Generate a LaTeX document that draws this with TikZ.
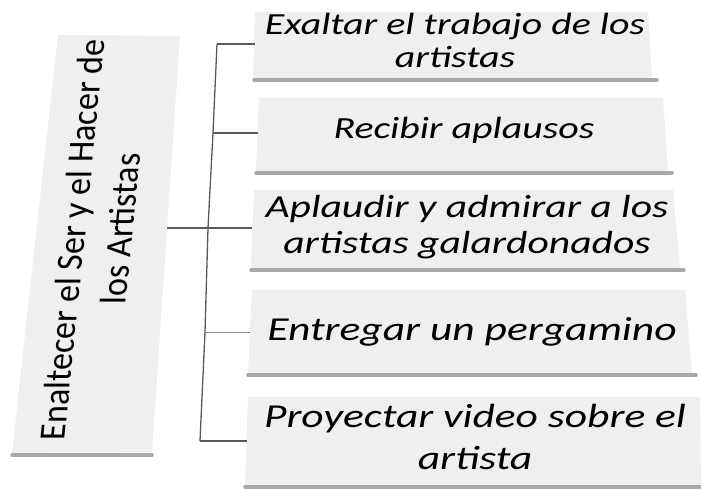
\documentclass[tikz,border=0pt]{standalone}
\usepackage{fontspec}
\setmainfont{Carlito}
\usepackage{graphicx}
\definecolor{boxfill}{HTML}{EFEFEF}
\definecolor{shadowc}{HTML}{A8A8A8}
\definecolor{linec}{HTML}{5A5A5A}
\tikzset{
  boxshape/.style={fill=boxfill, draw=none},
  shadowline/.style={draw=shadowc, line width=3.5pt, line cap=round},
  conn/.style={draw=linec, line width=1.3pt},
  txt/.style={inner sep=0pt, text=black},
}
\begin{document}
\begin{tikzpicture}[x=1pt,y=-1pt]
\useasboundingbox (0,0) rectangle (701,489);
% main (left) box
\fill[boxshape] (58,35) -- (180,36) -- (152,452) -- (12,453) -- cycle;
\draw[shadowline] (12,455) -- (152,455);
\begin{scope}[shift={(99,240)}, xslant=0.1]
\node[txt, transform shape] (main) at (0,0) {\rotatebox{90}{\scalebox{0.92}[1]{\fontsize{37}{47}\selectfont\begin{tabular}{@{}c@{}}Enaltecer el Ser y el Hacer de\\\hspace*{24pt}los Artistas\end{tabular}}}};
\end{scope}
% right boxes
\fill[boxshape] (255,12) -- (648,12) -- (652,78) -- (253,78) -- cycle;
\draw[shadowline] (254,80) -- (657,80);
\fill[boxshape] (259,98) -- (663,98) -- (668,171) -- (256,171) -- cycle;
\draw[shadowline] (256,173) -- (672,173);
\fill[boxshape] (254,190) -- (673,190) -- (680,268) -- (251,268) -- cycle;
\draw[shadowline] (251,270) -- (684,270);
\fill[boxshape] (252,290) -- (685,290) -- (692,373) -- (248,373) -- cycle;
\draw[shadowline] (248,375) -- (696,375);
\fill[boxshape] (248,397) -- (700,397) -- (701,485) -- (245,485) -- cycle;
\draw[shadowline] (245,487) -- (701,487);
% texts
\node[txt] (t1) at (455,44) {\scalebox{1.3}[1]{\fontsize{30.7}{33}\selectfont\itshape\begin{tabular}{@{}c@{}}Exaltar el trabajo de los\\artistas\end{tabular}}};
\node[txt] (t2) at (464,131.5) {\scalebox{1.3}[1]{\fontsize{30.7}{33}\selectfont\itshape\begin{tabular}{@{}c@{}}Recibir aplausos\end{tabular}}};
\node[txt] (t3) at (467,228) {\scalebox{1.3}[1]{\fontsize{32}{36}\selectfont\itshape\begin{tabular}{@{}c@{}}Aplaudir y admirar a los\\artistas galardonados\end{tabular}}};
\node[txt] (t4) at (472,332) {\scalebox{1.3}[1]{\fontsize{33.5}{40}\selectfont\itshape\begin{tabular}{@{}c@{}}Entregar un pergamino\end{tabular}}};
\node[txt] (t5) at (475,440.5) {\scalebox{1.3}[1]{\fontsize{33.5}{42}\selectfont\itshape\begin{tabular}{@{}c@{}}Proyectar video sobre el\\artista\end{tabular}}};
% connector points
\coordinate (mainE) at (167,228);
\coordinate (j1) at (217,44);
\coordinate (j2) at (213,133);
\coordinate (j3) at (208,228);
\coordinate (j4) at (205,332);
\coordinate (j5) at (200,441);
\coordinate (b1w) at (255,44);
\coordinate (b2w) at (258,133);
\coordinate (b3w) at (252,228);
\coordinate (b4w) at (250,332);
\coordinate (b5w) at (247,441);
% connectors
\draw[conn] (mainE) -- (j3);
\draw[conn] (j1) -- (j2) -- (j3) -- (j4) -- (j5);
\draw[conn] (j1) -- (b1w);
\draw[conn] (j2) -- (b2w);
\draw[conn] (j3) -- (b3w);
\draw[conn, line width=0.9pt, draw=linec!70] (j4) -- (b4w);
\draw[conn] (j5) -- (b5w);
\end{tikzpicture}
\end{document}
